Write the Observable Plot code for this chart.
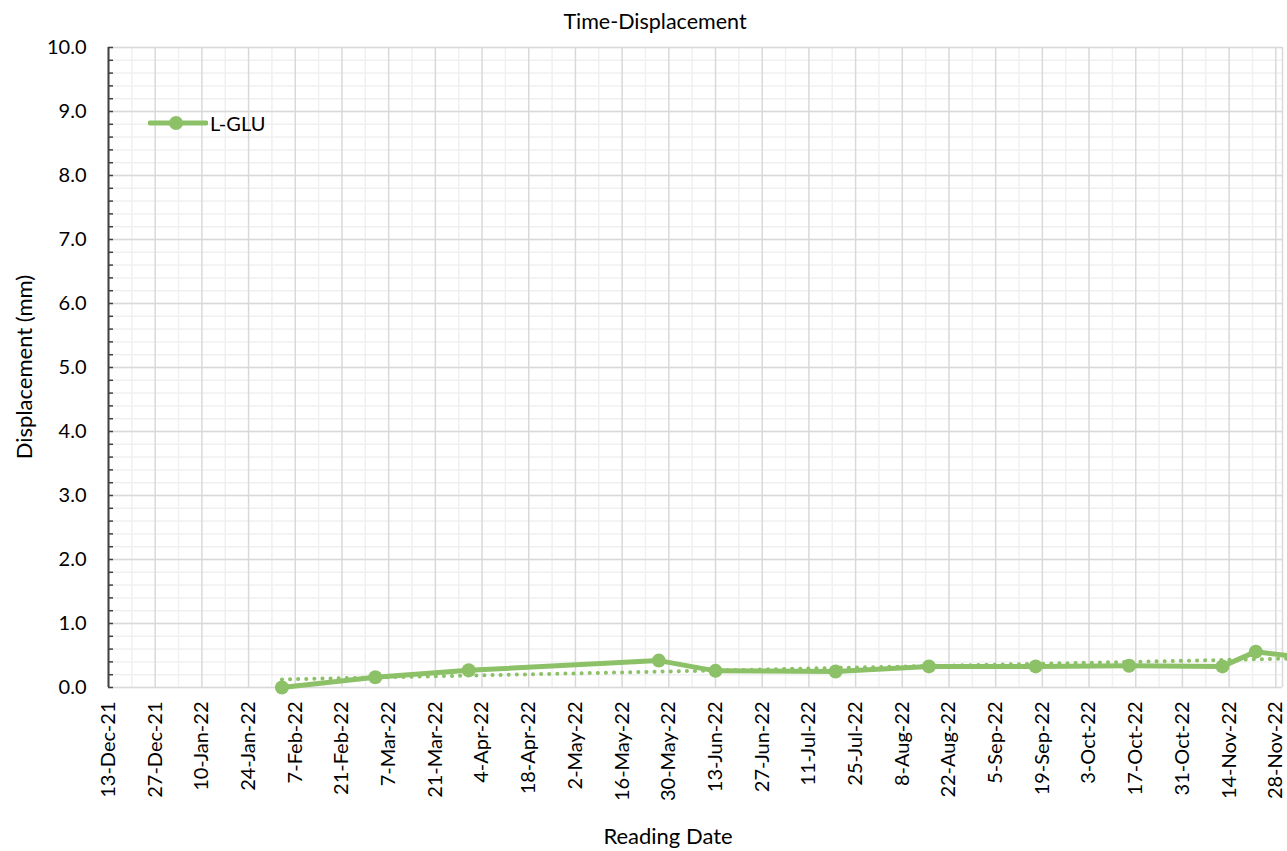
<!DOCTYPE html>
<html>
<head>
<meta charset="utf-8">
<script src="https://cdn.jsdelivr.net/npm/d3@7"></script>
<script src="https://cdn.jsdelivr.net/npm/@observablehq/plot@0.6"></script>
<style>
  html, body { margin: 0; padding: 0; background: #fff; overflow: hidden; }
  #wrap { position: relative; width: 1287px; height: 851px; font-family: Lato, "Open Sans", sans-serif; color: #000; }
  #title { position: absolute; top: 8px; left: 555px; width: 200px; text-align: center; font-size: 21.5px; line-height: 26px; }
  #xlabel { position: absolute; top: 823px; left: 568px; width: 200px; text-align: center; font-size: 22px; line-height: 26px; }
  #ylabel { position: absolute; top: 354px; left: -126px; width: 300px; height: 26px; text-align: center; font-size: 22px; line-height: 26px; transform: rotate(-90deg); }
  #legend { position: absolute; left: 148px; top: 110px; display: flex; align-items: center; font-size: 20px; }
  #chart svg { display: block; }
  #chart svg text { font-size: 20px !important; font-family: Lato, "Open Sans", sans-serif !important; fill: #000; }
</style>
</head>
<body>
<div id="wrap">
  <div id="chart"></div>
  <div id="title">Time-Displacement</div>
  <div id="xlabel">Reading Date</div>
  <div id="ylabel">Displacement (mm)</div>
  <div id="legend">
    <svg width="60" height="26"><line x1="2" y1="13" x2="58" y2="13" stroke="#8CC168" stroke-width="5" stroke-linecap="round"/><circle cx="28" cy="13" r="7" fill="#8CC168"/></svg>
    <span style="margin-left:2px">L-GLU</span>
  </div>
</div>
<script>
// ---- data ----
const readingDates = ["2022-02-03","2022-03-03","2022-03-31","2022-05-27","2022-06-13","2022-07-19","2022-08-16","2022-09-17","2022-10-15","2022-11-12","2022-11-22","2022-12-06"];
const displacement = [0.00, 0.16, 0.27, 0.42, 0.26, 0.25, 0.33, 0.33, 0.34, 0.33, 0.56, 0.47];
const seriesName = "L-GLU";
const xTickLabels = ["2021-12-13","2021-12-27","2022-01-10","2022-01-24","2022-02-07","2022-02-21","2022-03-07","2022-03-21","2022-04-04","2022-04-18","2022-05-02","2022-05-16","2022-05-30","2022-06-13","2022-06-27","2022-07-11","2022-07-25","2022-08-08","2022-08-22","2022-09-05","2022-09-19","2022-10-03","2022-10-17","2022-10-31","2022-11-14","2022-11-28"];
const yTicks = [0,1,2,3,4,5,6,7,8,9,10];
const xDomain = ["2021-12-13","2022-11-30"];

const parse = d3.utcParse("%Y-%m-%d");
const data = readingDates.map((d, i) => ({date: parse(d), value: displacement[i], series: seriesName}));
const majorX = xTickLabels.map(parse);
const x0 = parse(xDomain[0]), x1 = parse(xDomain[1]);
const minorX = d3.utcDay.range(d3.utcDay.offset(x0, 7), x1, 14);
const minorY = d3.range(0, 10.001, 0.2).map(v => Math.round(v * 10) / 10);
const green = "#8CC168";

const chart = Plot.plot({
  width: 1287,
  height: 851,
  marginLeft: 108,
  marginRight: 5,
  marginTop: 47,
  marginBottom: 164,
  style: {fontFamily: "Lato, 'Open Sans', sans-serif", fontSize: "20px", color: "#000", background: "#fff", overflow: "visible"},
  x: {
    type: "utc",
    domain: [x0, x1],
    ticks: majorX,
    tickFormat: d3.utcFormat("%-d-%b-%y"),
    tickRotate: -90,
    tickSize: 0,
    tickPadding: 14,
    label: null
  },
  y: {
    domain: [0, 10],
    ticks: yTicks,
    tickFormat: d3.format(".1f"),
    tickSize: 0,
    tickPadding: 22,
    label: null
  },
  marks: [
    Plot.ruleY(minorY, {stroke: "#F0F0F0", strokeWidth: 1.5}),
    Plot.ruleX(minorX, {stroke: "#F0F0F0", strokeWidth: 1.5}),
    Plot.ruleY(yTicks, {stroke: "#D9D9D9", strokeWidth: 1.5}),
    Plot.ruleX(majorX, {stroke: "#D9D9D9", strokeWidth: 1.5}),
    Plot.ruleX([x1], {stroke: "#D9D9D9", strokeWidth: 1.5}),
    Plot.ruleY(minorY, {x1: () => x0, x2: () => d3.utcHour.offset(x0, 36), stroke: "#404040", strokeWidth: 1.5}),
    Plot.ruleX([x0], {stroke: "#404040", strokeWidth: 2}),
    Plot.linearRegressionY(data, {x: "date", y: "value", ci: 0, stroke: green, strokeWidth: 4, strokeDasharray: "0.1,8", strokeLinecap: "round"}),
    Plot.line(data, {x: "date", y: "value", stroke: green, strokeWidth: 5, strokeLinejoin: "round"}),
    Plot.dot(data, {x: "date", y: "value", r: 7, fill: green, stroke: "none"})
  ]
});
document.getElementById("chart").appendChild(chart);
</script>
</body>
</html>
